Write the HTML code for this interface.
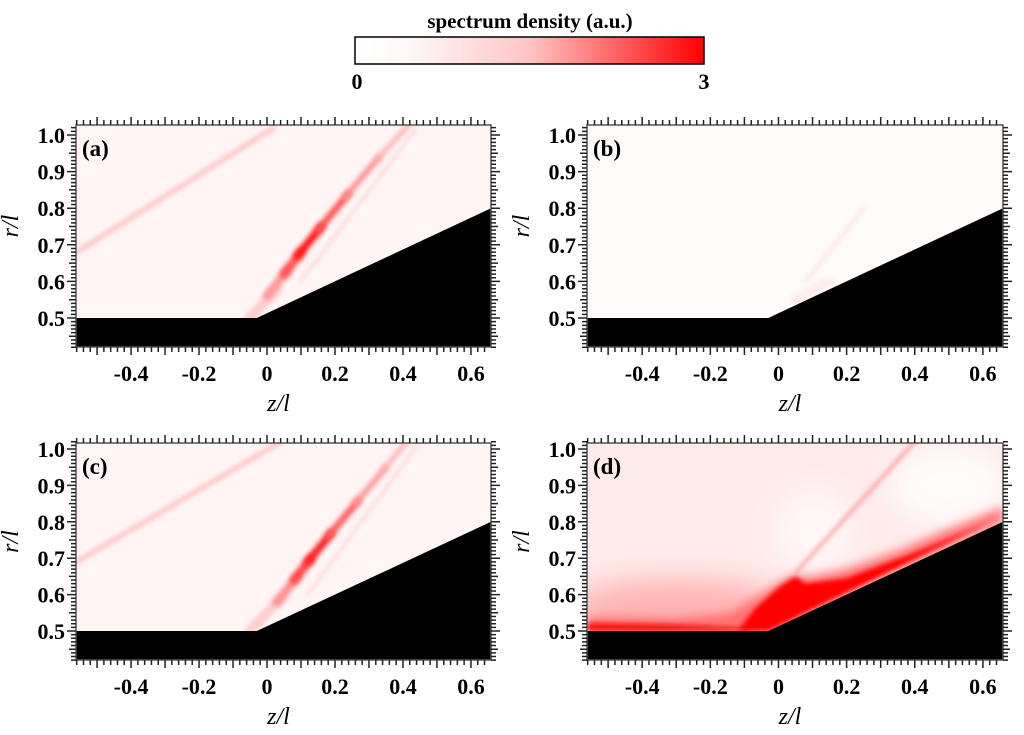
<!DOCTYPE html>
<html><head><meta charset="utf-8">
<style>
html,body{margin:0;padding:0;background:#fff;}
svg{display:block;font-family:"Liberation Serif",serif;}
</style></head>
<body>
<svg id="fig" width="1024" height="735" viewBox="0 0 1024 735">
<defs>
<linearGradient id="cbg" x1="0" x2="1" y1="0" y2="0">
<stop offset="0" stop-color="#ffffff"/><stop offset="0.15" stop-color="#fff8f8"/><stop offset="0.5" stop-color="#ffc4c4"/><stop offset="1" stop-color="#ff0000"/>
</linearGradient>
<filter id="b2" x="-50%" y="-50%" width="200%" height="200%"><feGaussianBlur stdDeviation="2.5"/></filter>
<filter id="b4" x="-50%" y="-50%" width="200%" height="200%"><feGaussianBlur stdDeviation="5"/></filter>
<filter id="b10" x="-50%" y="-50%" width="200%" height="200%"><feGaussianBlur stdDeviation="14"/></filter>
</defs>
<g>
<text x="530" y="28" text-anchor="middle" font-size="21" font-weight="bold">spectrum density (a.u.)</text>
<rect x="355" y="37" width="349" height="27" fill="url(#cbg)" stroke="#000" stroke-width="1.5"/>
<text x="357" y="89" text-anchor="middle" font-size="22" font-weight="bold">0</text>
<text x="704" y="89" text-anchor="middle" font-size="22" font-weight="bold">3</text>
</g>
</svg>
<script>
const panelLabels = ['(a)','(b)','(c)','(d)'];
const xTicks = [-0.4,-0.2,0,0.2,0.4,0.6];
const xTickLabels = ['-0.4','-0.2','0','0.2','0.4','0.6'];
const yTicks = [0.5,0.6,0.7,0.8,0.9,1.0];
const yTickLabels = ['0.5','0.6','0.7','0.8','0.9','1.0'];
const zMin = -0.562, zMax = 0.659;
const rMin = 0.42, rMax = 1.027;
const wallZ = [-0.562, -0.03, 0.659];
const wallR = [0.5, 0.5, 0.8];
// streaks per panel: [z1,r1,z2,r2,intensity(0-3),width]
const streaksA = [[-0.56,0.68,0.02,1.02,0.7,5],[-0.05,0.5,0.03,0.58,0.6,10],[0.0,0.56,0.06,0.63,1.2,9],[0.05,0.62,0.1,0.68,2.0,9],[0.09,0.67,0.16,0.75,2.7,8],[0.15,0.74,0.24,0.84,2.0,7],[0.23,0.83,0.33,0.94,1.3,6],[0.32,0.93,0.42,1.03,0.9,5],[0.1,0.6,0.44,1.02,0.5,3]];
const streaksB = [[0.08,0.6,0.25,0.8,0.3,4],[0.05,0.55,0.15,0.6,0.2,12]];
const streaksC = [[-0.56,0.69,0.04,1.02,0.7,5],[-0.05,0.5,0.04,0.59,0.6,10],[0.03,0.58,0.09,0.65,1.3,9],[0.08,0.64,0.13,0.7,2.1,9],[0.12,0.69,0.19,0.77,2.6,8],[0.18,0.76,0.27,0.86,1.9,7],[0.26,0.85,0.35,0.95,1.2,6],[0.34,0.94,0.42,1.03,0.9,5],[0.12,0.6,0.45,1.02,0.5,3]];
const streaksD = [[0.05,0.66,0.4,1.02,1.8,2]];
const bgLevel = [0.12,0.05,0.12,0.25];
const panels = [
 {x0:76,x1:491,top:125,bot:347,r1:135,r05:318,streaks:streaksA},
 {x0:587,x1:1003,top:125,bot:347,r1:135,r05:318,streaks:streaksB},
 {x0:76,x1:491,top:443,bot:660,r1:449,r05:631,streaks:streaksC},
 {x0:587,x1:1003,top:443,bot:660,r1:449,r05:631,streaks:streaksD}
];
const NS='http://www.w3.org/2000/svg';
const svg=document.getElementById('fig');
function mk(tag,attrs,parent){const e=document.createElementNS(NS,tag);for(const k in attrs)e.setAttribute(k,attrs[k]);(parent||svg).appendChild(e);return e;}
function col(v){const t=Math.min(1,v/3);const g=Math.round(255*(1-t));return 'rgb(255,'+g+','+g+')';}
panels.forEach((p,i)=>{
 const sy=(p.r05-p.r1)/0.5;
 const X=z=>p.x0+(z-zMin)/(zMax-zMin)*(p.x1-p.x0);
 const Y=r=>p.r05-(r-0.5)*sy;
 const g=mk('g',{});
 
 
 const cid='clip'+i;
 const cp=mk('clipPath',{id:cid},g);
 mk('rect',{x:p.x0,y:p.top,width:p.x1-p.x0,height:p.bot-p.top},cp);
 const hm=mk('g',{'clip-path':'url(#'+cid+')'},g);
 
 
 mk('rect',{x:p.x0,y:p.top,width:p.x1-p.x0,height:p.bot-p.top,fill:col(bgLevel[i])},hm);
 if(i===3){
  mk('ellipse',{cx:X(-0.3),cy:Y(0.56),rx:110,ry:30,fill:col(0.9),filter:'url(#b10)'},hm);
  mk('ellipse',{cx:X(0.5),cy:Y(0.9),rx:60,ry:40,fill:col(0.05),filter:'url(#b10)'},hm);
  mk('ellipse',{cx:X(0.1),cy:Y(0.78),rx:40,ry:40,fill:col(0.1),filter:'url(#b10)'},hm);
  const poly=[[-0.56,0.5],[-0.56,0.54],[-0.3,0.535],[-0.14,0.55],[-0.05,0.6],[0.03,0.65],[0.1,0.65],[0.2,0.67],[0.35,0.72],[0.5,0.78],[0.66,0.84],[0.66,0.8],[-0.03,0.5]];
  mk('polygon',{points:poly.map(q=>X(q[0])+','+Y(q[1])).join(' '),fill:col(1.7),filter:'url(#b4)'},hm);
  const core=[[-0.12,0.5],[-0.07,0.56],[0.0,0.62],[0.05,0.65],[0.08,0.63],[0.2,0.645],[0.4,0.715],[0.62,0.8],[-0.03,0.5]];
  mk('polygon',{points:core.map(q=>X(q[0])+','+Y(q[1])).join(' '),fill:col(3),filter:'url(#b2)'},hm);
  const lay=[[-0.56,0.5],[-0.56,0.522],[-0.3,0.518],[-0.1,0.51],[-0.08,0.5]];
  mk('polygon',{points:lay.map(q=>X(q[0])+','+Y(q[1])).join(' '),fill:col(2.9),filter:'url(#b2)'},hm);
 }
 p.streaks.forEach(s=>{
  const l=mk('line',{x1:X(s[0]),y1:Y(s[1]),x2:X(s[2]),y2:Y(s[3]),stroke:col(s[4]),'stroke-width':s[5],'stroke-linecap':'round',filter:'url(#b2)'},hm);
  
  
 });
 const wp=wallZ.map((z,k)=>X(z)+','+Y(wallR[k])).join(' ')+' '+X(zMax)+','+p.bot+' '+X(zMin)+','+p.bot;
 const w=mk('polygon',{points:wp,fill:'#000'},hm);
 
 
 mk('rect',{x:p.x0,y:p.top,width:p.x1-p.x0,height:p.bot-p.top,fill:'none',stroke:'#555',"stroke-width":1.5},g);
 let d='';
 for(let k=-28;k<=33;k++){const z=k*0.02;if(z<zMin||z>zMax)continue;const x=X(z);const L=(k%5===0)?8:5;d+='M'+x+' '+p.top+'v-'+L+'M'+x+' '+p.bot+'v'+L;}
 for(let k=42;k<=102;k++){const r=k*0.01;if(r<rMin||r>rMax)continue;const y=Y(r);const L=(k%10===0)?9:(k%5===0?7:5);d+='M'+p.x0+' '+y+'h-'+L+'M'+p.x1+' '+y+'h'+L;}
 const tk=mk('path',{d:d,stroke:'#222','stroke-width':1.5,fill:'none'},g);
 
 
 xTicks.forEach((z,k)=>{const t=mk('text',{x:X(z),y:p.bot+34,'text-anchor':'middle','font-size':22,'font-weight':'bold'},g);t.textContent=xTickLabels[k];
  
  });
 yTicks.forEach((r,k)=>{const t=mk('text',{x:p.x0-11,y:Y(r)+8,'text-anchor':'end','font-size':22,'font-weight':'bold'},g);t.textContent=yTickLabels[k];
  
  });
 const xt=mk('text',{x:(p.x0+p.x1)/2-5,y:p.bot+64,'text-anchor':'middle','font-size':24,'font-style':'italic'},g);xt.textContent='z/l';
 
 
 const yt=mk('text',{x:0,y:0,'text-anchor':'middle','font-size':24,'font-style':'italic',transform:'translate('+(p.x0-58)+','+((p.top+p.bot)/2-10)+') rotate(-90)'},g);yt.textContent='r/l';
 
 
 const pl=mk('text',{x:p.x0+6,y:p.top+31,'font-size':23,'font-weight':'bold'},g);pl.textContent=panelLabels[i];
 
 
});
</script>
</body></html>
